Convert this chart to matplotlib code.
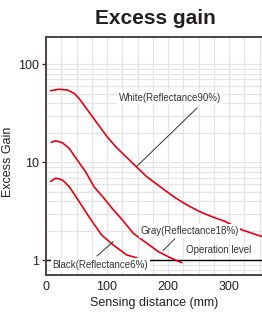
import matplotlib.pyplot as plt

plt.rcParams['font.family'] = ['Liberation Sans', 'DejaVu Sans']

# sensing distance (mm) / excess gain
white_d = [8, 21, 35, 46, 54, 68, 84, 100, 114, 128, 145, 165, 187, 209, 231, 252, 272, 294, 321, 354]
white_g = [53.8, 55.6, 54.7, 50.6, 45, 34.2, 25, 18.3, 14.5, 11.9, 9.4, 7.15, 5.65, 4.47, 3.68,
           3.14, 2.79, 2.49, 2.05, 1.75]

gray_d = [9, 16, 27, 38, 51, 65, 79, 95, 110, 125, 143, 165, 184, 203, 222]
gray_g = [16.0, 16.6, 15.8, 13.9, 10.6, 8.0, 5.6, 4.3, 3.3, 2.6, 1.89, 1.50, 1.23, 1.07, 0.95]

black_d = [8, 16, 27, 38, 49, 56, 71, 91, 110, 132, 149]
black_g = [6.4, 6.9, 6.6, 5.65, 4.47, 3.83, 2.75, 1.82, 1.44, 1.14, 1.06]

operation_level = 1
xticks = [0, 100, 200, 300]
yticks = [1, 10, 100]
ytick_labels = ['1', '10', '100']

red = '#e60012'
spine_col = '#4a4444'

fig = plt.figure(figsize=(2.62, 3.21), dpi=100)
ax = fig.add_axes([0.1756, 0.1433, 0.8244, 0.7417])

ax.set_yscale('log')
ax.set_xlim(0, 354)
ax.set_ylim(0.71, 190)

# grid every 25 mm and on log minors
ax.set_xticks(range(0, 355, 25), minor=True)
ax.set_xticks(xticks)
ax.set_yticks(yticks)
ax.set_yticklabels(ytick_labels)
ax.grid(True, which='both', color='#e4e4e4', lw=0.9)
ax.set_axisbelow(True)

ax.tick_params(axis='x', which='both', length=0, labelsize=9, pad=4, colors='#231f20')
ax.tick_params(axis='y', which='major', length=3, width=0.9, labelsize=9, pad=2,
               colors='#231f20')
ax.tick_params(axis='y', which='minor', length=0)
ax.yaxis.set_minor_formatter(plt.NullFormatter())

for s in ['left', 'top', 'bottom']:
    ax.spines[s].set_color(spine_col)
    ax.spines[s].set_linewidth(1.4)
ax.spines['right'].set_visible(False)

ax.axhline(operation_level, color='black', lw=1, zorder=2)

ax.plot(white_d, white_g, color=red, lw=1.2, zorder=3, solid_joinstyle='round')
ax.plot(gray_d, gray_g, color=red, lw=1.2, zorder=3, solid_joinstyle='round')
ax.plot(black_d, black_g, color=red, lw=1.2, zorder=3, solid_joinstyle='round')

# leader lines
ax.plot([148, 247.5], [9.0, 35.8], color='#333333', lw=0.7, zorder=4)
ax.plot([192, 211], [1.26, 1.66], color='#333333', lw=0.7, zorder=4)
ax.plot([83.6, 110], [1.11, 1.55], color='#333333', lw=0.7, zorder=4)

box = dict(fc='white', ec='none', pad=1.2)
ax.text(203, 45.3, 'White(Reflectance90%)', fontsize=7, ha='center', va='center',
        color='#333333', bbox=box, zorder=5)
ax.text(235, 2.0, 'Gray(Reflectance18%)', fontsize=7, ha='center', va='center',
        color='#333333', bbox=box, zorder=5)
ax.text(229.5, 1.28, 'Operation level', fontsize=7, ha='left', va='center',
        color='#333333', zorder=5)
ax.text(11, 0.90, 'Black(Reflectance6%)', fontsize=7, ha='left', va='center',
        color='#333333', bbox=box, zorder=5)

ax.set_xlabel('Sensing distance (mm)', fontsize=9, color='#231f20', labelpad=3)
ax.set_ylabel('Excess Gain', fontsize=9, color='#231f20')
ax.yaxis.set_label_coords(-0.148, 0.475)

fig.text(0.592, 0.942, 'Excess gain', fontsize=15, fontweight='bold',
         ha='center', va='center', color='#231f20')

fig.savefig('out.png', dpi=100)
